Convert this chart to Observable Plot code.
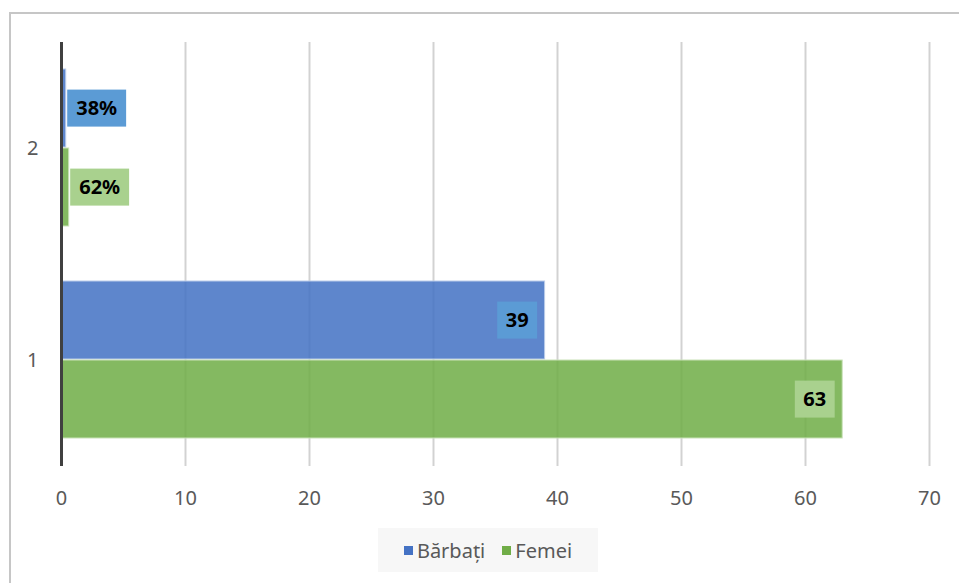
<!DOCTYPE html>
<html><head><meta charset="utf-8">
<script src="https://cdn.jsdelivr.net/npm/d3@7"></script>
<script src="https://cdn.jsdelivr.net/npm/@observablehq/plot@0.6"></script>
<style>
html,body{margin:0;padding:0;background:#fff;overflow:hidden;}
#wrap{position:relative;width:959px;height:583px;font-family:"Noto Sans",sans-serif;}
#frame{position:absolute;left:9px;top:12px;right:-10px;bottom:-10px;border-top:2px solid #c6c6c6;border-left:2px solid #c6c6c6;}
#chart{position:absolute;left:0;top:0;}
#legend{position:absolute;left:378px;top:528px;width:220px;height:44px;background:#f7f7f7;display:flex;align-items:center;justify-content:center;gap:17px;font-size:20px;color:#595959;}
#legend .it{display:flex;align-items:center;}
#legend .sw{display:inline-block;width:9px;height:9px;margin-right:4px;}
</style></head><body>
<div id="wrap"><div id="frame"></div><div id="chart"></div><div id="legend"></div></div>
<script>
// ---- data ----
const categories = ["1", "2"];
const series = ["Bărbați", "Femei"];
const barbatiValues = [39, 0.38];
const femeiValues = [63, 0.62];
const barbatiLabels = ["39", "38%"];
const femeiLabels = ["63", "62%"];
const xTicks = [0, 10, 20, 30, 40, 50, 60, 70];

// ---- styles ----
const barColors = ["#4472C4", "#70AD47"];
const barStrokes = ["#b9cbe9", "#c9e2b8"];
const boxColors = ["#5B9BD5", "#A9D18E"];
const insideCategory = "1";

const valuesBySeries = [barbatiValues, femeiValues];
const labelsBySeries = [barbatiLabels, femeiLabels];
const rows = [];
series.forEach((s, si) => {
  categories.forEach((c, ci) => {
    rows.push({series: s, si, category: c, value: valuesBySeries[si][ci], label: labelsBySeries[si][ci]});
  });
});

const marks = [
  Plot.gridX(xTicks, {stroke: "#d2d2d2", strokeOpacity: 1, strokeWidth: 2}),
];
series.forEach((s, si) => {
  marks.push(Plot.barX(rows.filter(d => d.si === si), {
    x: "value", y: "series", fy: "category",
    fill: barColors[si], fillOpacity: 0.86, stroke: barStrokes[si], strokeWidth: 1
  }));
});
marks.push(Plot.ruleX([0], {stroke: "#404040", strokeWidth: 3}));
marks.push(Plot.text(rows.filter(d => d.category === insideCategory), {
  x: "value", y: "series", fy: "category", text: "label",
  textAnchor: "end", dx: -16.5, fill: "#000", fontWeight: "bold", fontSize: 20
}));
marks.push(Plot.text(rows.filter(d => d.category !== insideCategory), {
  x: "value", y: "series", fy: "category", text: "label",
  textAnchor: "start", dx: 10, fill: "#000", fontWeight: "bold", fontSize: 20
}));
marks.push(Plot.axisX({ticks: xTicks, tickSize: 0, tickPadding: 24, fontSize: 20, fill: "#595959", label: null}));
marks.push(Plot.axisFy({anchor: "left", tickSize: 0, tickPadding: 23, fontSize: 20, fill: "#595959", label: null}));

const plot = Plot.plot({
  width: 959,
  height: 525,
  marginLeft: 61,
  marginRight: 30,
  marginTop: 42,
  marginBottom: 59,
  style: {fontFamily: "Noto Sans", fontSize: "20px", color: "#595959", background: "transparent", overflow: "visible"},
  x: {domain: [0, 70], ticks: xTicks},
  y: {domain: series, axis: null, paddingOuter: 0.333, paddingInner: 0.01},
  fy: {domain: categories.slice().reverse(), padding: 0, label: null},
  marks
});
document.getElementById("chart").appendChild(plot);

// label background boxes, sized from the rendered text
const svgNS = "http://www.w3.org/2000/svg";
const labelInfo = new Map();
rows.forEach(d => labelInfo.set(d.label, d));
plot.querySelectorAll("text").forEach(t => {
  const d = labelInfo.get(t.textContent);
  if (!d) return;
  const bb = t.getBBox();
  const padX = d.category === insideCategory ? 8.5 : 9;
  const cy = bb.y + bb.height / 2 + 0.7;
  const r = document.createElementNS(svgNS, "rect");
  r.setAttribute("x", bb.x - padX);
  r.setAttribute("width", bb.width + 2 * padX);
  r.setAttribute("y", cy - 18.5);
  r.setAttribute("height", 37);
  r.setAttribute("fill", boxColors[d.si]);
  const tr = t.getAttribute("transform");
  if (tr) r.setAttribute("transform", tr);
  t.parentNode.insertBefore(r, t);
});

// legend
const legend = document.getElementById("legend");
series.forEach((s, si) => {
  const it = document.createElement("span");
  it.className = "it";
  it.innerHTML = `<span class="sw" style="background:${barColors[si]}"></span><span>${s}</span>`;
  legend.appendChild(it);
});
</script>
</body></html>
